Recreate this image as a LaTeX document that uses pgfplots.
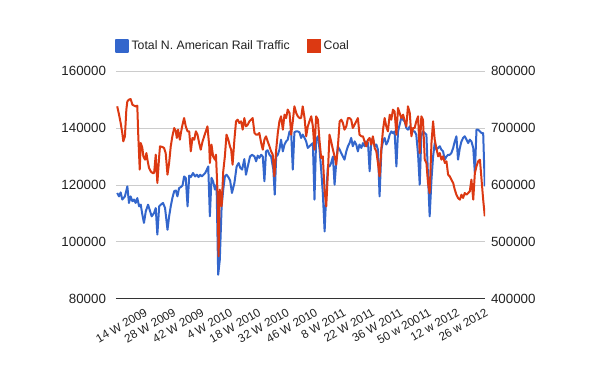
\documentclass[border=0pt]{standalone}
\usepackage{pgfplots}
\pgfplotsset{compat=1.18}
\usepackage{fontspec}
\setmainfont{Liberation Sans}
\definecolor{gblue}{HTML}{3366CC}
\definecolor{gred}{HTML}{DC3912}
\definecolor{ggrid}{HTML}{CCCCCC}
\definecolor{gtext}{HTML}{222222}
\begin{document}
\begin{tikzpicture}
\useasboundingbox[fill=white] (-87pt,-54pt) rectangle (363pt,224.25pt);
\pgfplotsset{
  every axis/.append style={
    at={(0,0)}, anchor=south west,
    scale only axis, width=276.75pt, height=171pt,
    xmin=0, xmax=182, enlarge x limits=false, enlarge y limits=false,
    font=\fontsize{10}{12}\selectfont,
    tick style={draw=none},
    scaled y ticks=false,
    /pgf/number format/assume math mode=true,
    /pgf/number format/fixed,
    /pgf/number format/1000 sep={},
    ticklabel style={text=gtext},
  }
}
\begin{axis}[
  ymin=80000, ymax=160000, ytick={80000,100000,120000,140000,160000},
  ymajorgrids, grid style={ggrid, line width=0.75pt},
  axis x line*=bottom, axis y line*=left,
  y axis line style={draw=none},
  x axis line style={draw=black!80, line width=0.75pt},
  yticklabel style={xshift=-4pt},
  xtick={14,28,42,56,70,84,98,112,126,140,154,168,182},
  xticklabels={14 W 2009,28 W 2009,42 W 2009,4 W 2010,18 W 2010,32 W 2010,46 W 2010,8 W 2011,22 W 2011,36 W 2011,50 w 20011,12 w 2012,26 w 2012},
  xticklabel style={rotate=30, anchor=north east, xshift=0pt, yshift=-2pt, font=\fontsize{8.8}{10}\selectfont},
  legend image code/.code={\fill[#1] (0pt,-4.5pt) rectangle (9pt,4.5pt);},
  legend style={at={(0,1)}, anchor=west, yshift=18.75pt, xshift=-1pt, draw=none, fill=none, inner sep=0pt,
    font=\fontsize{9.2}{11}\selectfont, text=gtext,
    /tikz/every even column/.append style={column sep=11pt}},
  legend columns=2,
]
\addplot[color=gblue, line width=1.5pt, line join=round, no markers] coordinates {
(0.6,117200)(1.5,116000)(2.3,117400)(3.1,114900)(4.4,116000)(5.6,119500)(6.4,113700)(7.2,116000)(8.1,114300)(8.9,114900)
(9.7,113700)(10.5,115400)(11.4,112500)(12.2,113100)(13,109600)(13.8,106700)(14.7,110800)(15.8,113100)(16.6,111300)(17.6,109000)
(18.8,110200)(19.6,111900)(20.4,102600)(21.3,112500)(22.1,113100)(23.2,113700)(24.2,111900)(25.4,104300)(26.2,109000)(27,112500)
(27.8,115400)(28.7,117800)(29.5,118100)(30.3,116000)(31.1,118900)(32,119300)(32.8,119800)(33.6,123000)(34.4,122500)(35.3,112500)
(36.1,123300)(36.9,122800)(38,124200)(39,123000)(39.9,123600)(40.7,122800)(41.5,123600)(42.3,123000)(43.2,123600)(44,124200)
(44.8,125400)(45.5,126500)(46.3,109000)(47.1,122500)(47.9,121300)(48.8,118400)(49.6,120100)(50.4,88500)(51.2,93800)(52.1,112500)
(52.9,118400)(53.7,123000)(54.5,123600)(55.4,122800)(56.3,121500)(57.2,117200)(58.4,120700)(59.5,126500)(60.5,127700)(61.3,126000)
(62.2,125400)(63.3,129100)(64.1,123600)(65,126500)(66.1,130000)(67.1,130600)(68.3,130000)(69.1,128300)(69.9,130300)(70.7,129500)
(71.6,130600)(72.4,130000)(73.2,121300)(74,131800)(74.8,132200)(75.7,130600)(76.5,130000)(77.6,125400)(78.3,116600)(79,130000)
(79.8,130600)(80.6,132400)(81.4,135900)(82.3,131800)(83.1,134200)(83.9,135300)(84.7,135900)(85.6,138800)(86.4,138200)(87.2,125400)
(88,138500)(88.8,138800)(89.7,138800)(90.5,138500)(91.3,136500)(92.1,137700)(93,136500)(93.8,135300)(94.6,133000)(95.4,133600)
(96.3,134200)(97.1,134700)(97.9,114900)(98.7,135900)(99.6,137100)(100.4,132400)(101.2,125400)(102,117200)(102.9,103700)(103.7,117200)
(104.5,126500)(105.3,126500)(106.1,127700)(107,130000)(107.8,120100)(108.6,127700)(109.4,133600)(110.3,132400)(111.1,131200)(111.9,130000)
(112.7,128900)(113.6,131800)(114.4,133600)(115.2,134700)(116,136500)(116.8,133600)(117.7,135300)(118.5,134200)(119.3,131800)(120.1,134200)
(121,133000)(121.8,134700)(122.6,133600)(123.4,135300)(124.3,134700)(125.1,124800)(125.9,135300)(126.7,136500)(127.6,133600)(128.4,134200)
(129.2,132400)(130,116000)(130.9,132400)(131.7,135300)(132.5,136500)(133.3,134200)(134.1,135300)(135,137700)(135.8,138800)(136.6,138200)
(137.4,138800)(138.3,126500)(139.1,138800)(139.9,141200)(140.7,143500)(141.6,142900)(142.4,142300)(143.2,140000)(144,139400)(144.9,140600)
(145.7,138800)(146.5,138800)(147.3,138800)(148.1,137700)(149,130600)(149.8,120100)(150.6,137100)(151.4,138800)(152.3,138200)(153.1,137700)
(153.9,123000)(154.7,109000)(155.6,121900)(156.4,130000)(157.2,134700)(158,132400)(158.9,133000)(159.7,133600)(160.5,132400)(161.3,131800)
(162.2,128900)(163,130000)(163.8,130600)(164.6,130600)(165.4,131200)(166.3,133000)(167.1,135300)(167.9,137100)(168.7,128900)(169.6,133000)
(170.4,135300)(171.2,136500)(172,137100)(172.9,135900)(173.7,134700)(174.5,135900)(175.3,135300)(176.2,133000)(177,124200)(177.8,139400)
(178.6,139400)(179.5,138800)(180.3,138200)(181.1,138200)(181.9,119500)
};
\addlegendentry{Total N. American Rail Traffic}
\addlegendimage{color=gred, line width=1.5pt}
\addlegendentry{Coal}
\end{axis}
\begin{axis}[
  ymin=400000, ymax=800000, ytick={400000,500000,600000,700000,800000},
  axis x line=none, axis y line*=right,
  y axis line style={draw=none},
  yticklabel style={xshift=1pt},
]
\addplot[color=gred, line width=1.5pt, line join=round, no markers] coordinates {
(0.6,738000)(1.5,723400)(2.3,708800)(3.1,691200)(3.6,676600)(4.4,685400)(5.1,732200)(5.6,746800)(6.4,749700)(7.2,750900)
(8.1,740900)(8.9,739200)(9.7,738000)(10.5,739200)(11,685400)(11.7,626900)(12.2,673700)(13,664900)(13.5,650300)(14.3,644400)
(15,656100)(15.5,644400)(16.3,629800)(17.1,624000)(18,621000)(18.8,621000)(19.6,653200)(20.4,603500)(21.3,650300)(21.7,667800)
(22.9,666700)(23.7,664900)(24.5,656100)(25.4,618100)(26.2,638600)(27,667800)(27.8,685400)(28.7,700000)(29.5,694200)(30,682500)
(30.6,697100)(31.5,679500)(32,691200)(32.8,705800)(33.6,717500)(34.4,702900)(35.3,694200)(36.1,694200)(36.9,659100)(37.7,682500)
(38.6,679500)(39.4,694200)(40.2,688300)(41,673700)(41.8,662000)(42.7,676600)(43.5,685400)(44.3,694200)(45.1,702900)(46,667800)
(46.3,638600)(47.1,670800)(47.9,650300)(48.8,644400)(49.3,653200)(50.1,586000)(50.6,474900)(51.2,591800)(52.1,562600)(52.9,624000)
(53.7,650300)(54.5,688300)(55.4,679500)(56.2,667800)(56.8,662000)(57.5,635700)(58.4,679500)(59.2,711700)(60,714600)(60.8,708800)
(61.7,711700)(62.5,697100)(63.3,717500)(64.1,702900)(65,705800)(65.8,711700)(66.6,714600)(67.4,717500)(68.3,691200)(69.1,688300)
(69.9,688300)(70.7,691200)(71.6,673700)(72.4,662000)(73.2,679500)(74,685400)(74.8,676600)(75.7,667800)(76.5,659100)(77.3,653200)
(78.1,615200)(79,662000)(79.8,691200)(80.6,711700)(81.4,720500)(82.3,697100)(83.1,723400)(83.9,717500)(84.7,732200)(85.6,726300)
(86.4,688300)(87.2,711700)(88,738000)(88.9,726300)(89.7,720500)(90.5,717500)(91.3,717500)(92.1,738000)(93,717500)(93.8,685400)
(94.6,702900)(95.4,711700)(96.3,720500)(97.1,702900)(97.9,662000)(98.7,720500)(99.6,714600)(100.4,676600)(101.2,647400)(102,650300)
(102.9,588900)(103.7,562600)(104.5,621000)(105.3,688300)(106.1,676600)(107,662000)(107.8,650300)(108.6,635700)(109.4,664900)(110.3,711700)
(111.1,714600)(111.9,708800)(112.7,697100)(113.6,702900)(114.4,717500)(115.2,717500)(116,714600)(116.8,700000)(117.7,705800)(118.5,711700)
(119.3,717500)(120.1,688300)(121,685400)(121.8,685400)(122.6,676600)(123.4,667800)(124.3,679500)(125.1,682500)(125.9,670800)(126.7,685400)
(127.6,664900)(128.4,659100)(129.2,638600)(130,615200)(130.9,664900)(131.7,697100)(132.5,717500)(133.3,702900)(134.1,694200)(135,723400)
(135.8,714600)(136.6,732200)(137.4,729200)(138.3,688300)(139.1,735100)(139.9,726300)(140.7,717500)(141.6,723400)(142.4,711700)(143.2,702900)
(144,738000)(144.9,726300)(145.7,685400)(146.5,700000)(147.3,700000)(148.1,711700)(149,720500)(149.8,656100)(150.6,720500)(151.4,714600)
(152.3,644400)(153.1,638600)(153.9,603500)(154.7,586000)(155.6,673700)(156.4,711700)(157.2,679500)(158,664900)(158.9,650300)(159.7,656100)
(160.5,644400)(161.3,650300)(162.2,638600)(163,641500)(163.8,618100)(164.6,615200)(165.4,609400)(166.3,603500)(167.1,591800)(167.9,583000)
(168.7,577200)(169.6,574300)(170.4,583000)(171.2,577200)(172,586000)(172.9,583000)(173.7,586000)(174.5,588900)(175.3,609400)(176.2,574300)
(177,621000)(177.8,632700)(178.6,641500)(179.5,644400)(180.3,609400)(181.1,574300)(181.9,545000)
};
\end{axis}
\end{tikzpicture}
\end{document}
